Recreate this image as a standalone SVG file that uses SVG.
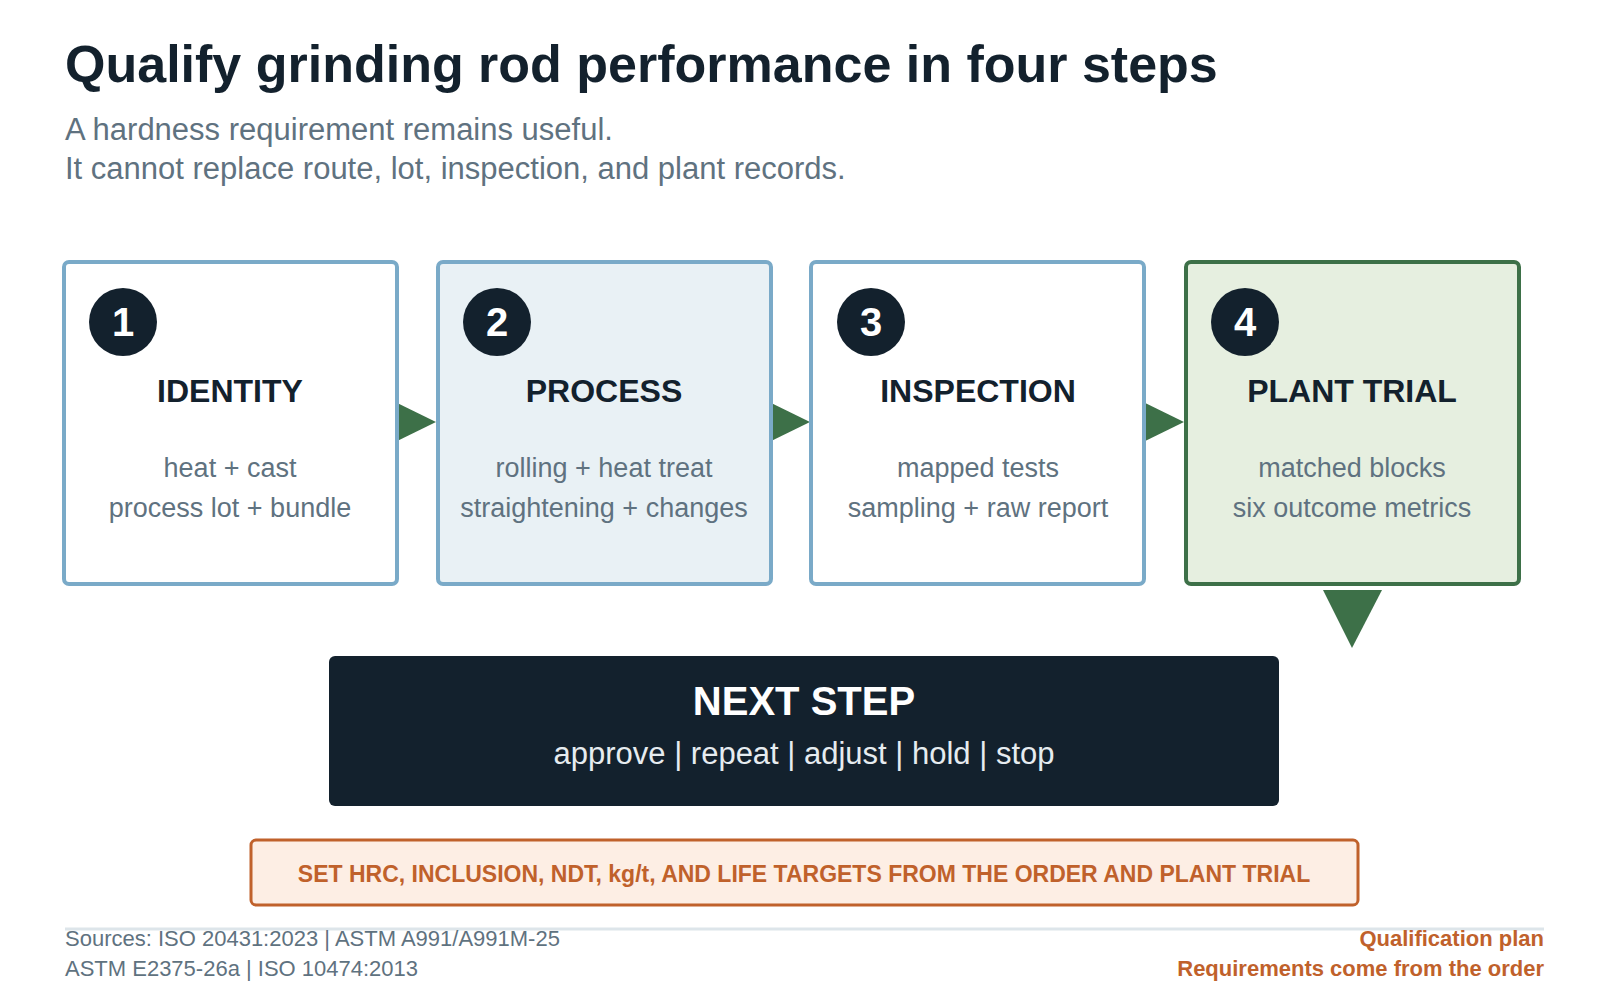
<svg xmlns="http://www.w3.org/2000/svg" width="1600" height="1000" viewBox="0 0 1600 1000">
<style>
text{font-family:"Liberation Sans",Arial,sans-serif}
.box{fill:#fff;stroke:#7aaac8;stroke-width:4}
.num{fill:#13212d}
.numt{fill:#fff;font-size:40px;font-weight:bold;text-anchor:middle}
.h{fill:#13212d;font-size:32px;font-weight:bold;text-anchor:middle}
.d{fill:#5f7280;font-size:27px;text-anchor:middle}
.arr{fill:#3d7048}
</style>
<rect width="1600" height="1000" fill="#fff"/>
<text x="65" y="82" font-size="52" font-weight="bold" fill="#13212d">Qualify grinding rod performance in four steps</text>
<text x="65" y="140" font-size="31" fill="#5f7280">A hardness requirement remains useful.</text>
<text x="65" y="179" font-size="31" fill="#5f7280">It cannot replace route, lot, inspection, and plant records.</text>
<g id="connectors">
<polygon class="arr" points="387,398 387,446 436,422"/>
<polygon class="arr" points="761,398 761,446 810,422"/>
<polygon class="arr" points="1135,398 1135,446 1184,422"/>
<polygon class="arr" points="1323,590 1382,590 1352,648"/>
</g>
<g id="n1"><rect class="box" x="64" y="262" width="333" height="322" rx="5"/><circle class="num" cx="123" cy="322" r="34"/><text class="numt" x="123" y="336">1</text><text class="h" x="230" y="402">IDENTITY</text><text class="d" x="230" y="477">heat + cast</text><text class="d" x="230" y="517">process lot + bundle</text></g>
<g id="n2"><rect class="box" x="438" y="262" width="333" height="322" rx="5" style="fill:#e9f1f5"/><circle class="num" cx="497" cy="322" r="34"/><text class="numt" x="497" y="336">2</text><text class="h" x="604" y="402">PROCESS</text><text class="d" x="604" y="477">rolling + heat treat</text><text class="d" x="604" y="517">straightening + changes</text></g>
<g id="n3"><rect class="box" x="811" y="262" width="333" height="322" rx="5"/><circle class="num" cx="871" cy="322" r="34"/><text class="numt" x="871" y="336">3</text><text class="h" x="978" y="402">INSPECTION</text><text class="d" x="978" y="477">mapped tests</text><text class="d" x="978" y="517">sampling + raw report</text></g>
<g id="n4"><rect class="box" x="1186" y="262" width="333" height="322" rx="5" style="fill:#e6efe0;stroke:#3d7048"/><circle class="num" cx="1245" cy="322" r="34"/><text class="numt" x="1245" y="336">4</text><text class="h" x="1352" y="402">PLANT TRIAL</text><text class="d" x="1352" y="477">matched blocks</text><text class="d" x="1352" y="517">six outcome metrics</text></g>
<g id="next"><rect x="329" y="656" width="950" height="150" rx="6" fill="#13212d"/><text x="804" y="715" font-size="40" font-weight="bold" fill="#fff" text-anchor="middle">NEXT STEP</text><text x="804" y="764" font-size="31" fill="#e6ecf0" text-anchor="middle">approve | repeat | adjust | hold | stop</text></g>
<g id="note"><rect x="251" y="840" width="1107" height="65" rx="5" fill="#fdeee4" stroke="#c0612b" stroke-width="3"/><text x="804" y="882" font-size="23" font-weight="bold" fill="#c0612b" text-anchor="middle">SET HRC, INCLUSION, NDT, kg/t, AND LIFE TARGETS FROM THE ORDER AND PLANT TRIAL</text></g>
<line x1="65" y1="929" x2="1544" y2="929" stroke="#dde5ea" stroke-width="3"/>
<text x="65" y="946" font-size="22" fill="#5f7280">Sources: ISO 20431:2023 | ASTM A991/A991M-25</text>
<text x="65" y="976" font-size="22" fill="#5f7280">ASTM E2375-26a | ISO 10474:2013</text>
<text x="1544" y="946" font-size="22" font-weight="bold" fill="#c0612b" text-anchor="end">Qualification plan</text>
<text x="1544" y="976" font-size="22" font-weight="bold" fill="#c0612b" text-anchor="end">Requirements come from the order</text>
</svg>
